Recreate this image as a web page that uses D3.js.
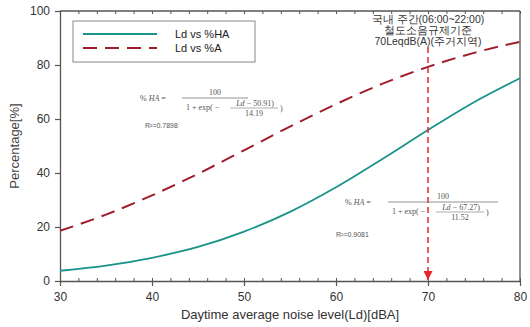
<!DOCTYPE html>
<html><head><meta charset="utf-8">
<script src="https://cdn.jsdelivr.net/npm/d3@7"></script>
<style>body{margin:0;background:#fff}svg{display:block}</style>
</head><body>
<script>
const ld = [30, 35, 40, 45, 50, 55, 60, 65, 70, 75, 80];
const pctHA = [3.8, 5.7, 8.6, 12.6, 18.3, 25.6, 34.7, 45.1, 55.9, 66.2, 75.1];
const pctA = [18.6, 24.6, 31.7, 39.7, 48.4, 57.2, 65.5, 73.0, 79.3, 84.5, 88.6];
const xTicks = [30, 40, 50, 60, 70, 80];
const yTicks = [0, 20, 40, 60, 80, 100];
const seriesNames = ["Ld vs %HA", "Ld vs %A"];
const limitLd = 70;
const annot = ["국내 주간(06:00~22:00)", "철도소음규제기준", "70LeqdB(A)(주거지역)"];

const W = 530, H = 327;
const m = {l: 60, r: 10, t: 11, b: 46};
const svg = d3.select("body").append("svg").attr("width", W).attr("height", H);
const x = d3.scaleLinear().domain([30, 80]).range([m.l, 520]);
const y = d3.scaleLinear().domain([0, 100]).range([281, m.t]);
const axisCol = "#555";
const font = "Liberation Sans, Arial, sans-serif";

// frame
svg.append("line").attr("x1", x(30)).attr("x2", x(80)).attr("y1", y(100)).attr("y2", y(100)).attr("stroke", axisCol).attr("stroke-width", 1.3);
svg.append("line").attr("x1", x(80)).attr("x2", x(80)).attr("y1", y(100)).attr("y2", y(0)).attr("stroke", axisCol).attr("stroke-width", 1.3);

// minor ticks
const minor = d3.range(30, 81, 2);
svg.append("g").attr("transform", `translate(0,${y(0)})`).call(d3.axisBottom(x).tickValues(minor).tickSize(-3).tickFormat(""))
  .call(g => g.select(".domain").remove()).selectAll("line").attr("stroke", axisCol);
svg.append("g").attr("transform", `translate(0,${y(100)})`).call(d3.axisTop(x).tickValues(minor).tickSize(-3).tickFormat(""))
  .call(g => g.select(".domain").remove()).selectAll("line").attr("stroke", axisCol);

// bottom axis
const gx = svg.append("g").attr("transform", `translate(0,${y(0)})`)
  .call(d3.axisBottom(x).tickValues(xTicks).tickSize(5).tickSizeOuter(0).tickPadding(6));
gx.select(".domain").attr("stroke", axisCol).attr("stroke-width", 1.3);
gx.selectAll("line").attr("stroke", axisCol).attr("stroke-width", 1.2);
gx.selectAll("text").attr("font-family", font).attr("font-size", 12).attr("fill", "#333");

const gy = svg.append("g").attr("transform", `translate(${x(30)},0)`)
  .call(d3.axisLeft(y).tickValues(yTicks).tickSize(5).tickSizeOuter(0).tickPadding(5));
gy.select(".domain").attr("stroke", axisCol).attr("stroke-width", 1.3);
gy.selectAll("line").attr("stroke", axisCol).attr("stroke-width", 1.2);
gy.selectAll("text").attr("font-family", font).attr("font-size", 12).attr("fill", "#333");

// labels
svg.append("text").attr("x", 290).attr("y", 319).attr("text-anchor", "middle")
  .attr("font-family", font).attr("font-size", 13).attr("fill", "#333").text("Daytime average noise level(Ld)[dBA]");
svg.append("text").attr("transform", `translate(19,${y(50)}) rotate(-90)`).attr("text-anchor", "middle")
  .attr("font-family", font).attr("font-size", 13).attr("fill", "#444").text("Percentage[%]");

// curves
const line = d3.line().x((d, i) => x(ld[i])).y(d => y(d)).curve(d3.curveMonotoneX);
svg.append("path").datum(pctA).attr("d", line).attr("fill", "none").attr("stroke", "#a01e2c").attr("stroke-width", 2).attr("stroke-dasharray", "14,8");
svg.append("path").datum(pctHA).attr("d", line).attr("fill", "none").attr("stroke", "#1a9488").attr("stroke-width", 1.8);

// vertical limit line with arrow
svg.append("defs").append("marker").attr("id", "arr").attr("viewBox", "0 0 10 10").attr("refX", 10).attr("refY", 5)
  .attr("markerWidth", 6).attr("markerHeight", 6).attr("orient", "auto")
  .append("path").attr("d", "M0,0L10,5L0,10z").attr("fill", "#e8262a");
svg.append("line").attr("x1", x(limitLd)).attr("x2", x(limitLd)).attr("y1", 47).attr("y2", y(0) - 1)
  .attr("stroke", "#e8262a").attr("stroke-width", 1.5).attr("stroke-dasharray", "6,4").attr("marker-end", "url(#arr)");
annot.forEach((t, i) => svg.append("text").attr("x", x(limitLd)).attr("y", 23 + i * 11).attr("text-anchor", "middle")
  .attr("font-family", font).attr("font-size", 10.5).attr("fill", "#333").text(t));

// legend
svg.append("rect").attr("x", 73).attr("y", 21).attr("width", 182).attr("height", 41).attr("fill", "#fff").attr("stroke", "#888").attr("stroke-width", 1);
svg.append("line").attr("x1", 83).attr("x2", 157).attr("y1", 34).attr("y2", 34).attr("stroke", "#1a9488").attr("stroke-width", 1.8);
svg.append("line").attr("x1", 83).attr("x2", 157).attr("y1", 48).attr("y2", 48).attr("stroke", "#a01e2c").attr("stroke-width", 2).attr("stroke-dasharray", "14,8");
seriesNames.forEach((t, i) => svg.append("text").attr("x", 175).attr("y", 38 + i * 14)
  .attr("font-family", font).attr("font-size", 11).attr("fill", "#222").text(t));

// formulas
const serif = "Liberation Serif, Times New Roman, serif";
function formula(x0, yLine, lineX1, lineX2, a, b, r2, rx, ry) {
  const g = svg.append("g").attr("font-family", serif).attr("font-size", 8).attr("fill", "#555");
  g.append("text").attr("x", x0).attr("y", yLine + 3).html('% <tspan font-style="italic">HA</tspan> =');
  g.append("line").attr("x1", lineX1).attr("x2", lineX2).attr("y1", yLine).attr("y2", yLine).attr("stroke", "#777").attr("stroke-width", 0.8);
  g.append("text").attr("x", (lineX1 + lineX2) / 2).attr("y", yLine - 3).attr("text-anchor", "middle").text("100");
  g.append("text").attr("x", lineX1 + 4).attr("y", yLine + 12).text("1 + exp( −");
  const fx = lineX1 + 48;
  g.append("text").attr("x", fx + 25).attr("y", yLine + 8).attr("text-anchor", "middle").html('<tspan font-style="italic">Ld</tspan> − ' + a + ')');
  g.append("line").attr("x1", fx).attr("x2", fx + 48).attr("y1", yLine + 10).attr("y2", yLine + 10).attr("stroke", "#777").attr("stroke-width", 0.6);
  g.append("text").attr("x", fx + 24).attr("y", yLine + 18).attr("text-anchor", "middle").text(b);
  g.append("text").attr("x", fx + 50).attr("y", yLine + 13).text(")");
  svg.append("text").attr("x", rx).attr("y", ry).attr("font-family", font).attr("font-size", 7).attr("fill", "#555").text("R²=" + r2);
}
formula(140, 98, 182, 248, "50.91", "14.19", "0.7898", 145, 128);
formula(345, 202, 388, 498, "67.27", "11.52", "0.9081", 336, 237);
</script>
</body></html>
